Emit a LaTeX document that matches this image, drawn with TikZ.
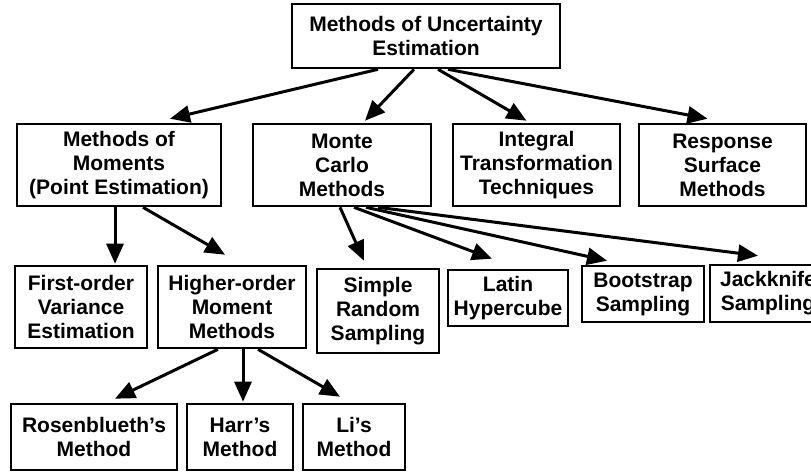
\documentclass[tikz,border=0pt]{standalone}
\usepackage{fontspec}
\setmainfont{Liberation Sans}
\usetikzlibrary{arrows.meta,calc}

\tikzset{
  box/.style={draw, line width=2.6pt, inner sep=0pt, align=center,
              font=\bfseries\fontsize{21}{24}\selectfont},
  arr/.style={line width=3pt, -{Triangle[length=20pt,width=17pt]}},
}

\begin{document}
\begin{tikzpicture}[x=1pt,y=-1pt]
\useasboundingbox (0,0) rectangle (811,472);
\fill[white] (0,0) rectangle (811,472);

% root
\node[box, minimum width=268, minimum height=64] (top) at (426,36)
  {Methods of Uncertainty\\Estimation};

% second level
\node[box, minimum width=204, minimum height=82] (mom) at (119,165)
  {Methods of\\Moments\\(Point Estimation)};
\node[box, minimum width=178, minimum height=82] (mc) at (342,165)
  {Monte\\Carlo\\Methods};
\node[box, minimum width=167, minimum height=82] (int) at (536.5,165)
  {Integral\\Transformation\\Techniques};
\node[box, minimum width=167, minimum height=82] (resp) at (722.5,165)
  {Response\\Surface\\Methods};

% third level
\node[box, minimum width=132, minimum height=82] (first) at (81,307)
  {First-order\\Variance\\Estimation};
\node[box, minimum width=148, minimum height=82] (higher) at (232,307)
  {Higher-order\\Moment\\Methods};
\node[box, minimum width=122, minimum height=84] (simple) at (378,311)
  {Simple\\Random\\Sampling};
\node[box, minimum width=120, minimum height=56] (latin) at (508,298)
  {Latin\\Hypercube};
\node[box, minimum width=122, minimum height=56] (boot) at (643,294)
  {Bootstrap\\Sampling};
\node[box, minimum width=116, minimum height=57] (jack) at (768,293.5)
  {Jackknife\\Sampling};

% fourth level
\node[box, minimum width=166, minimum height=66] (rosen) at (94,437)
  {Rosenblueth's\\Method};
\node[box, minimum width=106, minimum height=66] (harr) at (240,437)
  {Harr's\\Method};
\node[box, minimum width=102, minimum height=66] (li) at (354,437)
  {Li's\\Method};

% connectors
\draw[arr] ($(top.south)+(-48,0)$) -- ($(mom.north)+(51,-4)$);
\draw[arr] ($(top.south)+(-12,0)$) -- ($(mc.north)+(23,-2)$);
\draw[arr] ($(top.south)+(12,0)$)  -- ($(int.north)+(-10,-2)$);
\draw[arr] ($(top.south)+(22,0)$)  -- ($(resp.north)+(-15,-4)$);

\draw[arr] ($(mom.south)+(-4,0)$) -- ($(first.north)+(34,-1)$);
\draw[arr] ($(mom.south)+(24,0)$) -- ($(higher.north)+(-7,-10)$);

\draw[arr] ($(mc.south)+(-2,0)$) -- ($(simple.north)+(-14,-7)$);
\draw[arr] ($(mc.south)+(12,0)$) -- ($(latin.north)+(-16,-10)$);
\draw[arr] ($(mc.south)+(24,0)$) -- ($(boot.north)+(-36,-4)$);
\draw[arr] ($(mc.south)+(36,0)$) -- ($(jack.north)+(-10,-8)$);

\draw[arr] ($(higher.south)+(-14,0)$) -- ($(rosen.north)+(21,-4)$);
\draw[arr] ($(higher.south)+(11,0)$)  -- ($(harr.north)+(3,-1)$);
\draw[arr] ($(higher.south)+(26,0)$)  -- ($(li.north)+(-14,-6)$);
\end{tikzpicture}
\end{document}
